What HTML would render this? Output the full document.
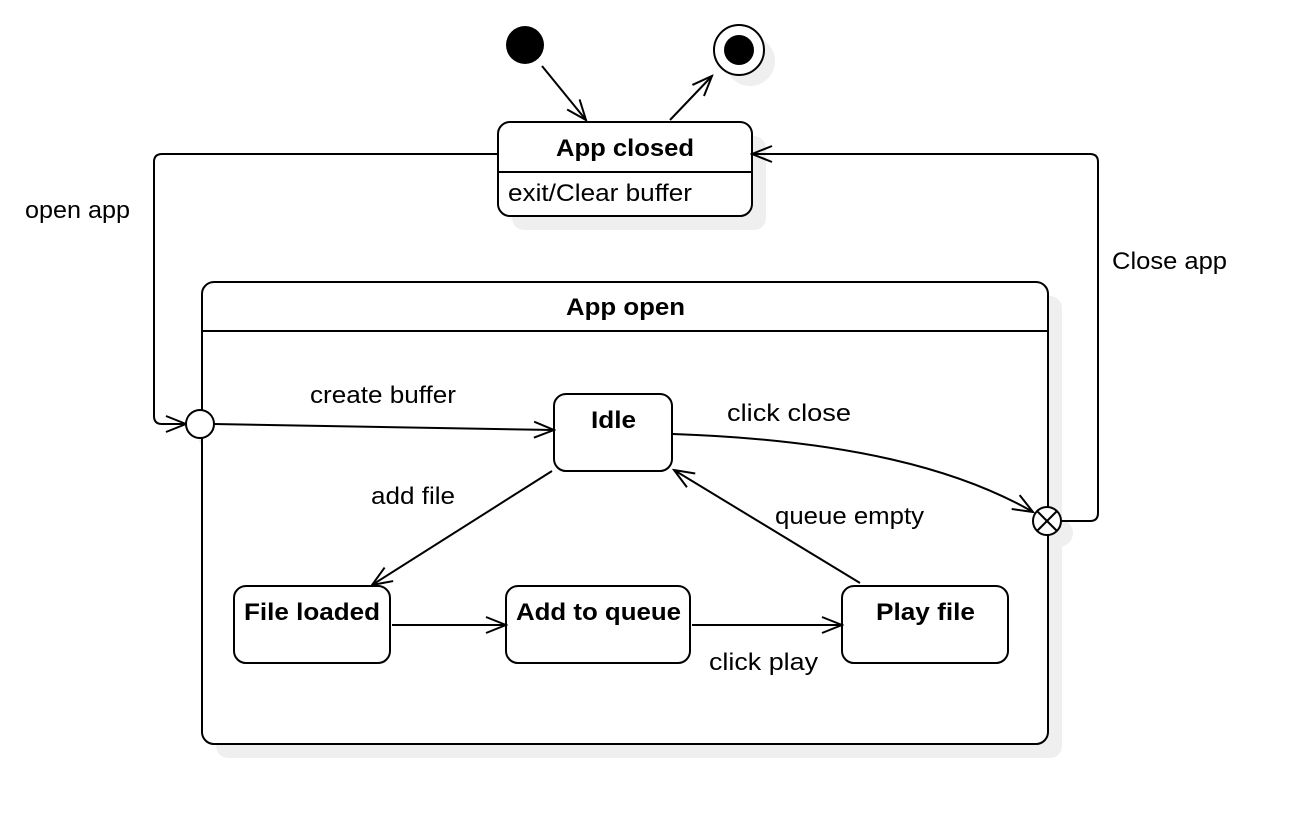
<!DOCTYPE html>
<html><head><meta charset="utf-8"><style>body{margin:0;background:#fff}svg{display:block}text{font-family:"Liberation Sans",sans-serif;font-size:24px;fill:#000}.b{font-weight:bold}</style></head><body>
<svg width="1300" height="818" viewBox="0 0 1300 818">
<defs><marker id="a" markerWidth="24" markerHeight="20" refX="22" refY="10" orient="auto" markerUnits="userSpaceOnUse"><path d="M2,2 L22,10 L2,18" fill="none" stroke="#000" stroke-width="2"/></marker></defs>
<g fill="#efefef">
<circle cx="750" cy="61" r="25"/>
<rect x="512" y="136" width="254" height="94" rx="12"/>
<rect x="216" y="296" width="846" height="462" rx="12"/>
<rect x="568" y="408" width="118" height="77" rx="12"/>
<rect x="248" y="600" width="156" height="77" rx="12"/>
<rect x="520" y="600" width="184" height="77" rx="12"/>
<rect x="856" y="600" width="166" height="77" rx="12"/>
<circle cx="212" cy="436" r="14"/><circle cx="1059" cy="533" r="14"/>
</g>
<g fill="none" stroke="#000" stroke-width="2">
<rect x="202" y="282" width="846" height="462" rx="12" fill="#fff"/>
<line x1="202" y1="331" x2="1048" y2="331"/>
<rect x="498" y="122" width="254" height="94" rx="12" fill="#fff"/>
<line x1="498" y1="172" x2="752" y2="172"/>
<rect x="554" y="394" width="118" height="77" rx="12" fill="#fff"/>
<rect x="234" y="586" width="156" height="77" rx="12" fill="#fff"/>
<rect x="506" y="586" width="184" height="77" rx="12" fill="#fff"/>
<rect x="842" y="586" width="166" height="77" rx="12" fill="#fff"/>
<circle cx="739" cy="50" r="25" fill="#fff"/>
<line x1="542" y1="66" x2="586" y2="120" marker-end="url(#a)"/>
<line x1="670" y1="120" x2="712" y2="76" marker-end="url(#a)"/>
<path d="M498,154 H162 Q154,154 154,162 V416 Q154,424 162,424 H186" marker-end="url(#a)"/>
<path d="M1061,521 H1090 Q1098,521 1098,513 V162 Q1098,154 1090,154 H752" marker-end="url(#a)"/>
<line x1="214" y1="424" x2="554" y2="430" marker-end="url(#a)"/>
<path d="M673,434 C850,440 960,470 1033,512" marker-end="url(#a)"/>
<line x1="552" y1="471" x2="372" y2="585" marker-end="url(#a)"/>
<line x1="392" y1="625" x2="506" y2="625" marker-end="url(#a)"/>
<line x1="692" y1="625" x2="842" y2="625" marker-end="url(#a)"/>
<line x1="860" y1="583" x2="674" y2="470" marker-end="url(#a)"/>
<circle cx="200" cy="424" r="14" fill="#fff"/>
<circle cx="1047" cy="521" r="14" fill="#fff"/>
<line x1="1037" y1="511" x2="1057" y2="531"/><line x1="1057" y1="511" x2="1037" y2="531"/>
</g>
<circle cx="525" cy="45" r="19"/>
<circle cx="739" cy="50" r="15"/>
<text class="b" x="556" y="156" textLength="138" lengthAdjust="spacingAndGlyphs">App closed</text>
<text x="508" y="201" textLength="184" lengthAdjust="spacingAndGlyphs">exit/Clear buffer</text>
<text class="b" x="566" y="315" textLength="119" lengthAdjust="spacingAndGlyphs">App open</text>
<text class="b" x="591" y="428" textLength="45" lengthAdjust="spacingAndGlyphs">Idle</text>
<text class="b" x="244" y="620" textLength="136" lengthAdjust="spacingAndGlyphs">File loaded</text>
<text class="b" x="516" y="620" textLength="165" lengthAdjust="spacingAndGlyphs">Add to queue</text>
<text class="b" x="876" y="620" textLength="99" lengthAdjust="spacingAndGlyphs">Play file</text>
<text x="25" y="218" textLength="105" lengthAdjust="spacingAndGlyphs">open app</text>
<text x="1112" y="269" textLength="115" lengthAdjust="spacingAndGlyphs">Close app</text>
<text x="310" y="403" textLength="146" lengthAdjust="spacingAndGlyphs">create buffer</text>
<text x="727" y="421" textLength="124" lengthAdjust="spacingAndGlyphs">click close</text>
<text x="371" y="504" textLength="84" lengthAdjust="spacingAndGlyphs">add file</text>
<text x="775" y="524" textLength="149" lengthAdjust="spacingAndGlyphs">queue empty</text>
<text x="709" y="670" textLength="109" lengthAdjust="spacingAndGlyphs">click play</text>
</svg>
</body></html>
